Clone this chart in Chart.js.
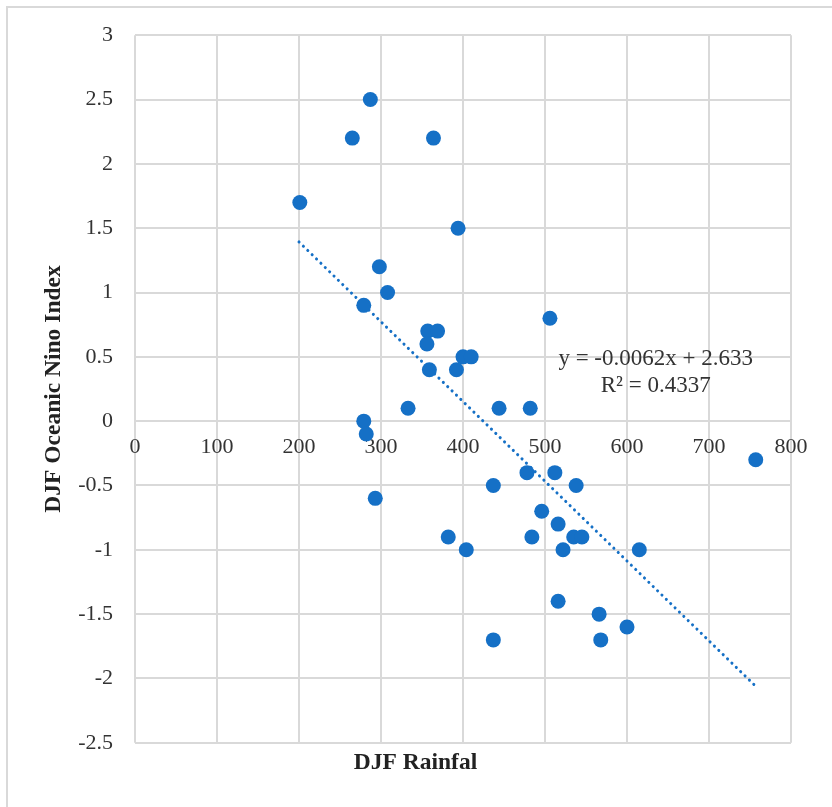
<!DOCTYPE html>
<html>
<head>
<meta charset="utf-8">
<script src="https://cdn.jsdelivr.net/npm/chart.js@4.4.1/dist/chart.umd.min.js"></script>
<style>
  body { margin: 0; background: #fff; }
  .frame { position: absolute; left: 6px; top: 6px; width: 840px; height: 820px; border: 2px solid #d9d9d9; }
  .wrap { position: absolute; left: 0; top: 0; width: 832px; height: 807px; }
</style>
</head>
<body>
<div class="frame"></div>
<div class="wrap"><canvas id="scatterChart"></canvas></div>
<script>
// DJF rainfall (x) vs DJF Oceanic Nino Index (y)
const rainfall = [201, 265, 287, 364, 394, 298, 308, 279, 357, 369, 356, 400, 410, 359, 392, 506,
    333, 444, 482, 279, 282, 293, 382, 404, 437, 437, 478, 512, 538, 496, 484, 516, 535, 545,
    522, 615, 516, 566, 568, 600, 757];
const oni = [1.7, 2.2, 2.5, 2.2, 1.5, 1.2, 1.0, 0.9, 0.7, 0.7, 0.6, 0.5, 0.5, 0.4, 0.4, 0.8,
    0.1, 0.1, 0.1, 0, -0.1, -0.6, -0.9, -1.0, -0.5, -1.7, -0.4, -0.4, -0.5, -0.7, -0.9, -0.8, -0.9, -0.9,
    -1.0, -1.0, -1.4, -1.5, -1.7, -1.6, -0.3];

// linear trendline as reported on the chart
const slope = -0.0062;
const intercept = 2.633;
const trendX = [200, 757];
const eqLines = ["y = -0.0062x + 2.633", "R\u00b2 = 0.4337"];

const xTicks = [0, 100, 200, 300, 400, 500, 600, 700, 800];
const yTicks = [-2.5, -2, -1.5, -1, -0.5, 0, 0.5, 1, 1.5, 2, 2.5, 3];

const blue = "#1570c6";
const gridColor = "#d9d9d9";
const textColor = "#333333";
const serif = "'Liberation Serif', 'Times New Roman', serif";

const points = rainfall.map((x, i) => ({ x: x, y: oni[i] }));
const trend = trendX.map(x => ({ x: x, y: slope * x + intercept }));

const equationLabel = {
    id: "equationLabel",
    afterDatasetsDraw(chart) {
        const ctx = chart.ctx;
        const xs = chart.scales.x, ys = chart.scales.y;
        ctx.save();
        ctx.font = "23px " + serif;
        ctx.fillStyle = textColor;
        ctx.textAlign = "center";
        ctx.textBaseline = "middle";
        ctx.fillText(eqLines[0], xs.getPixelForValue(635), ys.getPixelForValue(0.48));
        ctx.fillText(eqLines[1], xs.getPixelForValue(635), ys.getPixelForValue(0.27));
        ctx.restore();
    }
};

const ctx = document.getElementById("scatterChart").getContext("2d");
new Chart(ctx, {
    type: "scatter",
    data: {
        datasets: [{
            label: "ONI",
            data: points,
            backgroundColor: blue,
            borderColor: blue,
            pointRadius: 7.5,
            pointBorderWidth: 0,
            pointHoverRadius: 7.5
        }, {
            label: "Trend",
            type: "line",
            data: trend,
            borderColor: blue,
            borderWidth: 3,
            borderDash: [0.1, 6],
            borderCapStyle: "round",
            pointRadius: 0,
            fill: false
        }]
    },
    options: {
        responsive: true,
        maintainAspectRatio: false,
        animation: false,
        layout: {
            padding: { top: 27, right: 41, left: 40 }
        },
        plugins: {
            legend: { display: false },
            tooltip: { enabled: false },
            title: {
                display: true,
                position: "bottom",
                text: "DJF Rainfal",
                color: "#222",
                font: { family: serif, size: 23.5, weight: "bold" },
                padding: { top: 6, bottom: 30 }
            }
        },
        scales: {
            x: {
                type: "linear",
                position: { y: 0 },
                min: 0,
                max: 800,
                afterBuildTicks: axis => { axis.ticks = xTicks.map(v => ({ value: v })); },
                ticks: {
                    color: textColor,
                    font: { family: serif, size: 22 },
                    padding: 13,
                    callback: v => String(v)
                },
                grid: { color: gridColor, lineWidth: 2, drawTicks: false },
                border: { display: false }
            },
            y: {
                min: -2.5,
                max: 3,
                afterBuildTicks: axis => { axis.ticks = yTicks.map(v => ({ value: v })); },
                afterFit: axis => { axis.width = 95; },
                ticks: {
                    color: textColor,
                    font: { family: serif, size: 22 },
                    padding: 22,
                    callback: v => String(v)
                },
                title: {
                    display: true,
                    text: "DJF Oceanic Nino Index",
                    color: "#222",
                    font: { family: serif, size: 23.5, weight: "bold" },
                    padding: { top: 0, bottom: 0 }
                },
                grid: { color: gridColor, lineWidth: 2, drawTicks: false },
                border: { display: false }
            }
        }
    },
    plugins: [equationLabel]
});
</script>
</body>
</html>
